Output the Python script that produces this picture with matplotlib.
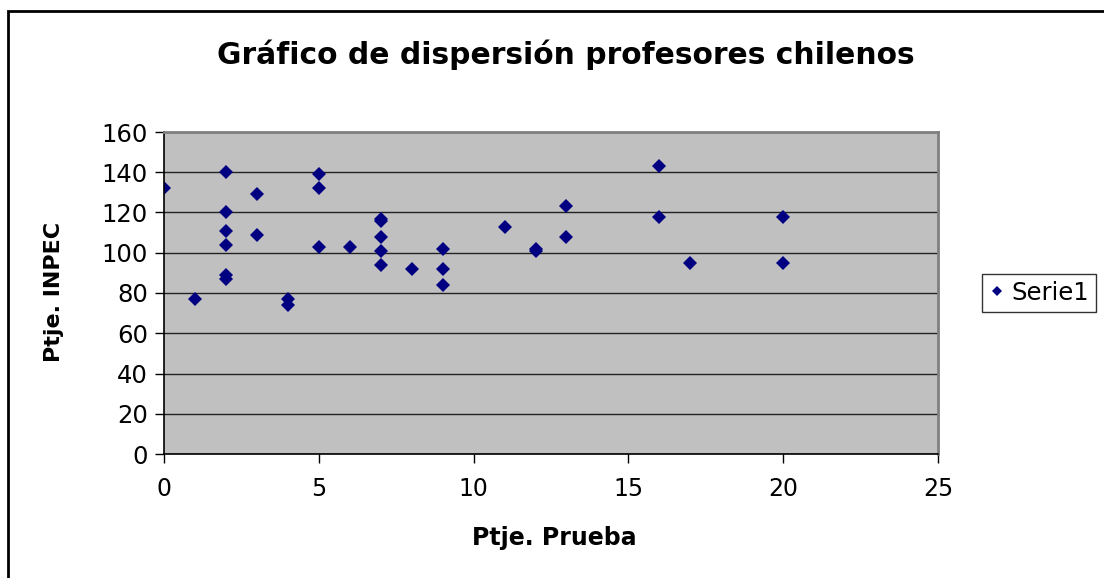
import matplotlib.pyplot as plt
from matplotlib import patches

# puntajes
ptje_prueba = [0, 1, 2, 2, 2, 2, 2, 2, 3, 3, 4, 4, 5, 5, 5, 6, 7, 7, 7, 7, 7, 8,
               9, 9, 9, 11, 12, 12, 13, 13, 16, 16, 17, 20, 20]
ptje_inpec = [132, 77, 140, 120, 111, 104, 89, 87, 129, 109, 77, 74, 139, 132, 103, 103,
              117, 116, 108, 101, 94, 92, 102, 92, 84, 113, 102, 101, 123, 108,
              143, 118, 95, 118, 95]
x_ticks = [0, 5, 10, 15, 20, 25]
y_ticks = [0, 20, 40, 60, 80, 100, 120, 140, 160]

W, H = 1104, 578
fig = plt.figure(figsize=(W / 100, H / 100), dpi=100)
ax = fig.add_axes([164 / W, 1 - 454 / H, (938 - 164) / W, (454 - 132) / H])

# marco exterior del grafico
fig.patches.append(patches.Rectangle((7.5 / W, -0.1), 1.2, 1 - 11 / H + 0.1,
                                     transform=fig.transFigure, fill=False,
                                     edgecolor='black', linewidth=2))

ax.set_facecolor('#C0C0C0')
ax.plot(ptje_prueba, ptje_inpec, 'D', color='#000080', markersize=7.2,
        markeredgewidth=0, label='Serie1')
ax.set_xlim(0, 25)
ax.set_ylim(0, 160)
ax.set_xticks(x_ticks)
ax.set_yticks(y_ticks)
ax.set_axisbelow(True)
ax.yaxis.grid(True, color='#222222', linewidth=1)
ax.xaxis.grid(False)

for s in ['top', 'right']:
    ax.spines[s].set_color('#808080')
    ax.spines[s].set_linewidth(2)
for s in ['left', 'bottom']:
    ax.spines[s].set_color('black')
    ax.spines[s].set_linewidth(1.2)

ax.tick_params(axis='x', direction='out', length=6.5, width=1, labelsize=17, pad=10)
ax.tick_params(axis='y', direction='out', length=6.5, width=1, labelsize=17.5, pad=5)

fig.text(566 / W, 1 - 55 / H, 'Gráfico de dispersión profesores chilenos',
         ha='center', va='center', fontsize=21.4, fontweight='bold')
fig.text(554 / W, 1 - 538 / H, 'Ptje. Prueba', ha='center', va='center',
         fontsize=17, fontweight='bold')
fig.text(54 / W, 1 - 292 / H, 'Ptje. INPEC', ha='center', va='center',
         rotation=90, fontsize=16, fontweight='bold')

leg = fig.legend(loc='center left', bbox_to_anchor=(982 / W, 1 - 293 / H),
                 fontsize=17.5, markerscale=0.7, frameon=True, fancybox=False,
                 handlelength=0.6, handletextpad=0.3, borderpad=0.3,
                 borderaxespad=0)
leg.get_frame().set_edgecolor('black')
leg.get_frame().set_linewidth(1)

fig.savefig('out.png', dpi=100)
